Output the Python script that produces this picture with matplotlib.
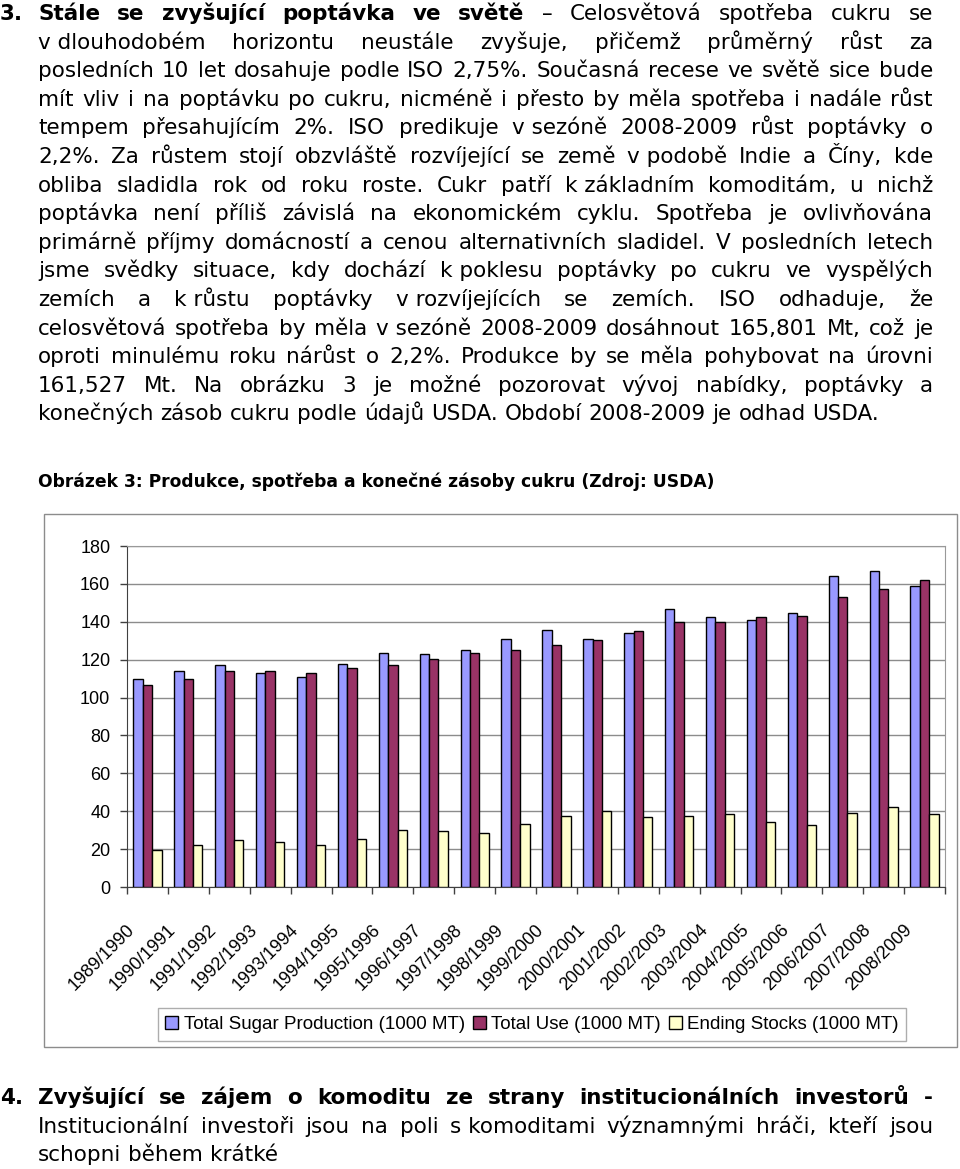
import matplotlib
matplotlib.use('Agg')
import matplotlib.pyplot as plt
import numpy as np
from matplotlib.patches import Rectangle

# page size in pixels (dpi 100)
W, H = 960, 1169
BODY_FONT = 'DejaVu Sans'
CHART_FONT = 'Liberation Sans'

# chart data (1000 MT)
seasons = ['1989/1990', '1990/1991', '1991/1992', '1992/1993', '1993/1994',
           '1994/1995', '1995/1996', '1996/1997', '1997/1998', '1998/1999',
           '1999/2000', '2000/2001', '2001/2002', '2002/2003', '2003/2004',
           '2004/2005', '2005/2006', '2006/2007', '2007/2008', '2008/2009']
production = [109.9, 114.1, 117.2, 113.2, 110.9, 117.9, 123.7, 122.9, 125.3, 131.0,
              135.9, 131.1, 134.3, 146.6, 142.4, 140.8, 144.8, 164.3, 166.8, 158.8]
total_use = [106.7, 110.0, 114.0, 113.9, 113.2, 115.8, 117.2, 120.6, 123.7, 125.3,
             127.6, 130.3, 135.2, 140.1, 140.1, 142.4, 143.2, 152.9, 157.2, 162.1]
ending_stocks = [19.6, 22.1, 24.6, 23.9, 22.1, 25.3, 30.2, 29.3, 28.6, 33.5,
                 37.6, 39.9, 36.9, 37.6, 38.5, 34.4, 32.7, 39.2, 42.4, 38.5]
series_labels = ['Total Sugar Production (1000 MT)', 'Total Use (1000 MT)',
                 'Ending Stocks (1000 MT)']

# document text; "~" keeps a preposition glued to the next word
para3_bold = 'Stále se zvyšující poptávka ve světě'
para3_lines = [
    '– Celosvětová spotřeba cukru se',
    'v~dlouhodobém horizontu neustále zvyšuje, přičemž průměrný růst za',
    'posledních 10 let dosahuje podle ISO 2,75%. Současná recese ve světě sice bude',
    'mít vliv i na poptávku po cukru, nicméně i přesto by měla spotřeba i nadále růst',
    'tempem přesahujícím 2%. ISO predikuje v~sezóně 2008-2009 růst poptávky o',
    '2,2%. Za růstem stojí obzvláště rozvíjející se země v~podobě Indie a Číny, kde',
    'obliba sladidla rok od roku roste. Cukr patří k~základním komoditám, u nichž',
    'poptávka není příliš závislá na ekonomickém cyklu. Spotřeba je ovlivňována',
    'primárně příjmy domácností a cenou alternativních sladidel. V posledních letech',
    'jsme svědky situace, kdy dochází k~poklesu poptávky po cukru ve vyspělých',
    'zemích a k~růstu poptávky v~rozvíjejících se zemích. ISO odhaduje, že',
    'celosvětová spotřeba by měla v~sezóně 2008-2009 dosáhnout 165,801 Mt, což je',
    'oproti minulému roku nárůst o 2,2%. Produkce by se měla pohybovat na úrovni',
    '161,527 Mt. Na obrázku 3 je možné pozorovat vývoj nabídky, poptávky a',
    'konečných zásob cukru podle údajů USDA. Období 2008-2009 je odhad USDA.',
]
caption = 'Obrázek 3: Produkce, spotřeba a konečné zásoby cukru (Zdroj: USDA)'
para4_bold = 'Zvyšující se zájem o komoditu ze strany institucionálních investorů -'
para4_lines = [
    'Institucionální investoři jsou na poli s~komoditami významnými hráči, kteří jsou',
    'schopni během krátké',
]

fig = plt.figure(figsize=(W / 100, H / 100), dpi=100)
renderer = fig.canvas.get_renderer()


def px(x, y):
    return x / W, 1 - y / H


def text_width(s, size, weight='normal', family=BODY_FONT):
    t = fig.text(0, 0, s, fontsize=size, fontweight=weight, family=family)
    w = t.get_window_extent(renderer).width
    t.remove()
    return w


def draw_line(tokens, y, size, x0=38, x1=933, justify=True):
    # tokens: list of (word, weight); words are spread between x0 and x1
    while True:
        widths = [text_width(w, size, wt) for w, wt in tokens]
        space = text_width('a a', size) - text_width('aa', size)
        if justify and len(tokens) > 1:
            gap = (x1 - x0 - sum(widths)) / (len(tokens) - 1)
        else:
            gap = space
        if gap >= 0.8 * space or size < 8:
            break
        size -= 0.2
    x = x0
    for (w, wt), wd in zip(tokens, widths):
        fig.text(*px(x, y), w, fontsize=size, fontweight=wt, family=BODY_FONT,
                 va='baseline', ha='left')
        x += wd + gap


def tokens_of(line, weight='normal'):
    return [(t.replace('~', ' '), weight) for t in line.split()]


BODY_SIZE = 15.5
LINE_STEP = 28.6

# paragraph 3
fig.text(*px(0, 20), '3.', fontsize=BODY_SIZE, fontweight='bold', family=BODY_FONT, va='baseline')
first = tokens_of(para3_bold, 'bold') + tokens_of(para3_lines[0])
draw_line(first, 20, BODY_SIZE)
for i, line in enumerate(para3_lines[1:], start=1):
    draw_line(tokens_of(line), 20 + LINE_STEP * i, BODY_SIZE,
              justify=(i < len(para3_lines) - 1))

# figure caption
fig.text(*px(38, 487), caption, fontsize=12.3, fontweight='bold', family=BODY_FONT, va='baseline')

# paragraph 4
fig.text(*px(0, 1104), '4.', fontsize=BODY_SIZE, fontweight='bold', family=BODY_FONT, va='baseline')
draw_line(tokens_of(para4_bold, 'bold'), 1104, BODY_SIZE)
draw_line(tokens_of(para4_lines[0]), 1104 + LINE_STEP, BODY_SIZE)
draw_line(tokens_of(para4_lines[1]), 1104 + 2 * LINE_STEP, BODY_SIZE, justify=False)

# chart frame
fig.add_artist(Rectangle(px(44, 1047), (957 - 44) / W, (1047 - 514) / H,
                         transform=fig.transFigure, fill=False,
                         edgecolor='#8c8c8c', linewidth=1))

ax = fig.add_axes([127 / W, 1 - 887 / H, (945 - 127) / W, (887 - 546) / H])
x = np.arange(len(seasons))
bw = 0.23
colors = ['#9999FF', '#993366', '#FFFFCC']
for k, (vals, col, lab) in enumerate(zip([production, total_use, ending_stocks], colors, series_labels)):
    ax.bar(x + (k - 1) * bw, vals, bw, color=col, edgecolor='black', linewidth=1,
           label=lab, zorder=3)

ax.set_xlim(-0.5, len(seasons) - 0.5)
ax.set_ylim(0, 180)
ax.set_yticks(range(0, 181, 20))
ax.yaxis.grid(True, color='#8c8c8c', linewidth=1)
ax.set_axisbelow(True)
ax.tick_params(axis='y', length=5, width=1, color='#404040', labelsize=13, pad=7)
for lbl in ax.get_yticklabels():
    lbl.set_family(CHART_FONT)
ax.set_xticks(np.arange(-0.5, len(seasons), 1))
ax.set_xticklabels([])
ax.tick_params(axis='x', length=5, width=1, color='#404040')
for sp in ['top', 'right']:
    ax.spines[sp].set_color('#999999')
for sp in ['left', 'bottom']:
    ax.spines[sp].set_color('#404040')

for i, s in enumerate(seasons):
    ax.text(i - 0.22, -34 / 341, s, transform=ax.get_xaxis_transform(), rotation=45,
            ha='right', va='top', fontsize=13, family=CHART_FONT)

leg = fig.legend(loc='center', bbox_to_anchor=px(532, 1024.5), ncol=3, frameon=True,
                 fancybox=False, edgecolor='#999999',
                 handlelength=0.7, handleheight=0.7, handletextpad=0.3,
                 columnspacing=0.4, borderpad=0.4, prop={'family': CHART_FONT, 'size': 13.5})
leg.get_frame().set_linewidth(1)

fig.savefig('out.png', dpi=100)
